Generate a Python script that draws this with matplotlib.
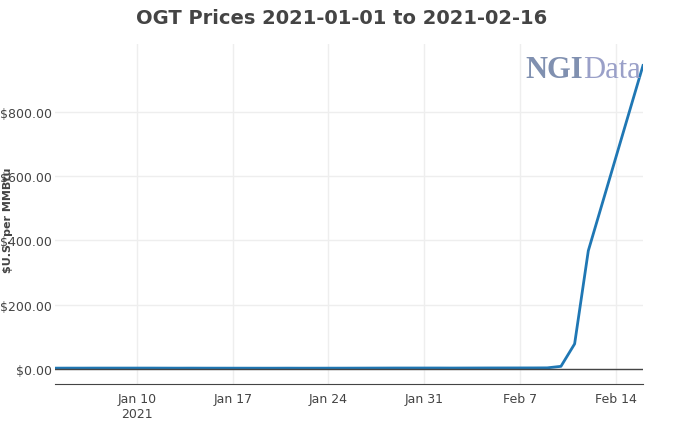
import matplotlib
matplotlib.use("Agg")
import matplotlib.pyplot as plt
import pandas as pd

dates = pd.to_datetime(["2021-01-04","2021-01-05","2021-01-06","2021-01-07","2021-01-08",
    "2021-01-11","2021-01-12","2021-01-13","2021-01-14","2021-01-15",
    "2021-01-19","2021-01-20","2021-01-21","2021-01-22",
    "2021-01-25","2021-01-26","2021-01-27","2021-01-28","2021-01-29",
    "2021-02-01","2021-02-02","2021-02-03","2021-02-04","2021-02-05",
    "2021-02-08","2021-02-09","2021-02-10","2021-02-11","2021-02-12","2021-02-16"])
prices = [2.4,2.5,2.5,2.6,2.6, 2.6,2.5,2.4,2.5,2.4, 2.3,2.3,2.4,2.3,
          2.4,2.5,2.6,2.7,2.8, 2.8,2.7,2.8,2.9,3.0, 3.1,3.3,8.0,78.0,368.0,945.0]

fig = plt.figure(figsize=(6.84,4.27), dpi=100)
ax = fig.add_axes([55/684, 1-385/427, (643-55)/684, (385-45)/427])
ax.plot(dates, prices, color="#1f77b4", lw=2)
ax.set_xlim(pd.Timestamp("2021-01-04"), pd.Timestamp("2021-02-16"))
ax.set_ylim(-47, 1012)
ax.set_yticks([0,200,400,600,800])
ax.set_yticklabels(["$0.00","$200.00","$400.00","$600.00","$800.00"])
ticks = pd.to_datetime(["2021-01-10","2021-01-17","2021-01-24","2021-01-31","2021-02-07","2021-02-14"])
ax.set_xticks(ticks)
ax.set_xticklabels(["Jan 10\n2021","Jan 17","Jan 24","Jan 31","Feb 7","Feb 14"])
ax.grid(color="#eeeeee", lw=1)
ax.axhline(0, color="#444444", lw=1)
for s in ["top","right","left"]:
    ax.spines[s].set_visible(False)
ax.spines["bottom"].set_color("#444444")
ax.tick_params(axis="x", length=0, labelsize=9, colors="#444444", pad=6)
ax.tick_params(axis="y", length=0, labelsize=9, colors="#444444", pad=2)
fig.text(8/684, 1-220/427, "$U.S. per MMBtu", rotation=90, va="center", ha="center",
         fontsize=8, color="#444444", fontweight="bold")
fig.text(0.5, 1-18/427, "OGT Prices 2021-01-01 to 2021-02-16", ha="center", va="center",
         fontsize=14, fontweight="bold", color="#444444")
fig.text(583/684, 1-70/427, "NGI", ha="right", va="center", fontsize=22, family="Liberation Serif",
         fontweight="bold", color="#8090b0")
fig.text(583/684, 1-70/427, "Data", ha="left", va="center", fontsize=22, family="Liberation Serif",
         color="#9aa0c8")
fig.savefig("out.png", dpi=100, facecolor="white")
